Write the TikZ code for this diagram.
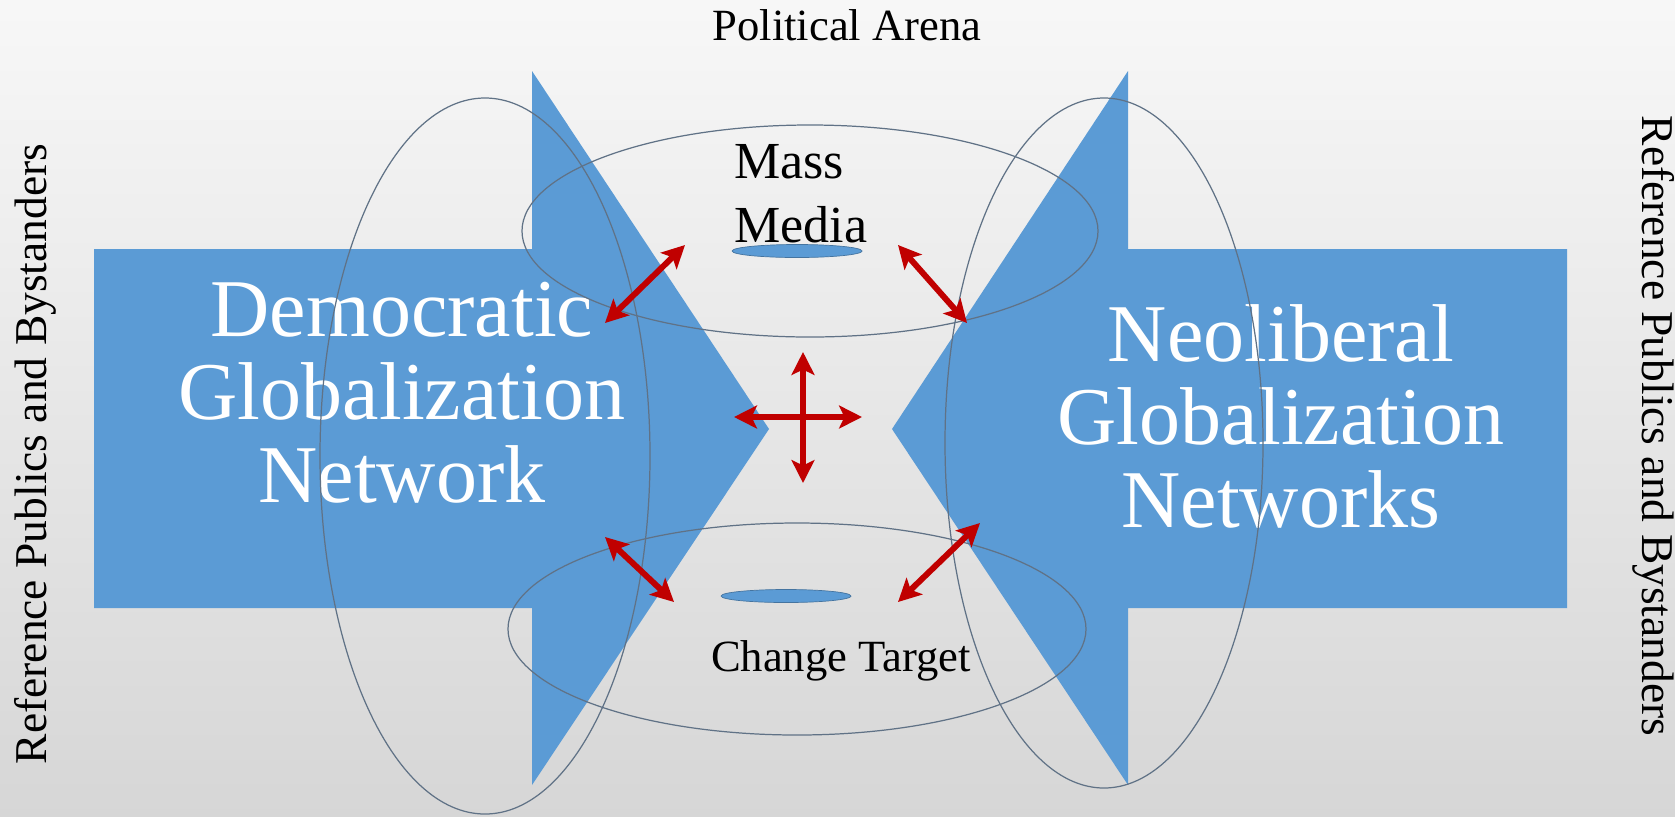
\documentclass[tikz,border=0pt]{standalone}
\usepackage{fontspec}
\setmainfont{Liberation Serif}
\usetikzlibrary{arrows.meta}

\definecolor{arrowblue}{RGB}{91,155,213}
\definecolor{linkred}{RGB}{192,0,0}
\definecolor{ringgray}{RGB}{96,114,134}

\begin{document}
\begin{tikzpicture}[x=0.02cm,y=-0.02cm,
    bigarrow/.style={fill=arrowblue,draw=none},
    ring/.style={draw=ringgray,line width=0.7pt},
    spot/.style={fill=arrowblue,draw=arrowblue!75!black,line width=0.4pt},
    link/.style={draw=linkred,line width=3.4pt,
      {Stealth[length=13pt,width=13pt,inset=3pt]}-{Stealth[length=13pt,width=13pt,inset=3pt]}},
    bigtext/.style={text=white,align=center,font=\fontsize{46.7}{47.2}\selectfont},
    smalltext/.style={font=\fontsize{25.4}{30}\selectfont},
    sidetext/.style={font=\fontsize{25.9}{30}\selectfont,inner sep=0pt}
  ]
  %%%%%%%%%%%%%%% background
  \shade[top color=white!97!black,middle color=white!94!black,bottom color=white!84!black]
    (0,0) rectangle (1675,816);
  \useasboundingbox (0,0) rectangle (1675,816);
  %%%%%%%%%%%%%%% the two networks
  \fill[bigarrow] (94,249) -- (532,249) -- (532,71) -- (769,429) -- (532,785)
    -- (532,608) -- (94,608) -- cycle;
  \fill[bigarrow] (1567,249) -- (1128,249) -- (1128,71) -- (892,429) -- (1128,785)
    -- (1128,608) -- (1567,608) -- cycle;
  % base anchor sits on the last line
  \node[bigtext,anchor=base] (demo) at (402,502) {Democratic\\Globalization\\Network};
  \node[bigtext,anchor=base] (neo) at (1281,527) {Neoliberal\\Globalization\\Networks};
  %%%%%%%%%%%%%%% arenas
  \draw[ring] (485,456) ellipse [x radius=165, y radius=358];
  \draw[ring] (1104,443) ellipse [x radius=159, y radius=345];
  \draw[ring] (810,231) ellipse [x radius=288, y radius=106];
  \draw[ring] (797,629) ellipse [x radius=289, y radius=106];
  \filldraw[spot] (797,251) ellipse [x radius=65, y radius=6.5];
  \filldraw[spot] (786,596) ellipse [x radius=65, y radius=6.5];
  %%%%%%%%%%%%%%% labels
  \node[smalltext,anchor=base] (arena) at (847,40) {Political Arena};
  \node[font=\fontsize{29.6}{36.4}\selectfont,align=left,anchor=base west] (media) at (728,242) {Mass\\Media};
  \node[smalltext,anchor=base] (target) at (841,671) {Change Target};
  \node[sidetext,rotate=90] (publicsL) at (35,454) {Reference Publics and Bystanders};
  \node[sidetext,rotate=-90] (publicsR) at (1654,426) {Reference Publics and Bystanders};
  %%%%%%%%%%%%%%% links
  \coordinate (m1) at (605,323);  \coordinate (m2) at (685,245);
  \coordinate (m3) at (898,245);  \coordinate (m4) at (967,323);
  \coordinate (c1) at (734,417);  \coordinate (c2) at (862,417);
  \coordinate (c3) at (803,352);  \coordinate (c4) at (803,483);
  \coordinate (t1) at (605,537);  \coordinate (t2) at (674,602);
  \coordinate (t3) at (898,602);  \coordinate (t4) at (980,523);
  \draw[link] (m1) -- (m2);
  \draw[link] (m3) -- (m4);
  \draw[link] (c1) -- (c2);
  \draw[link] (c3) -- (c4);
  \draw[link] (t1) -- (t2);
  \draw[link] (t3) -- (t4);
\end{tikzpicture}
\end{document}
